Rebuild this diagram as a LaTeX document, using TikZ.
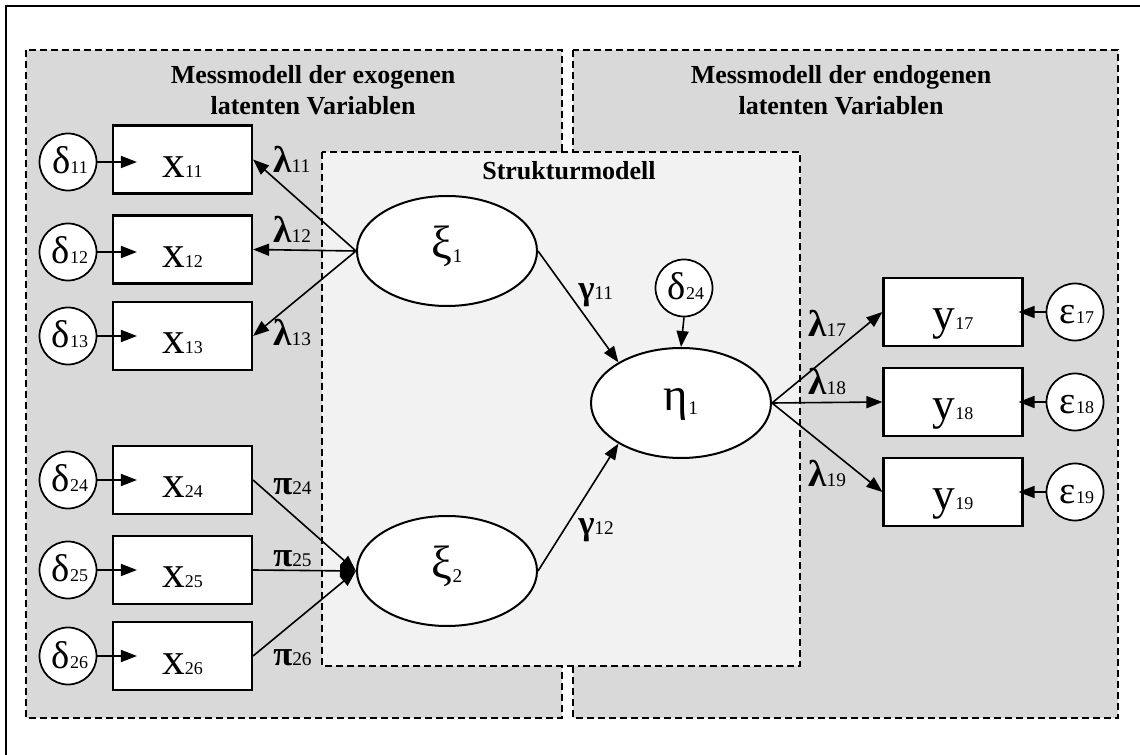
\documentclass[tikz,border=0pt]{standalone}
\usepackage{fontspec}
\setmainfont{Liberation Serif}
\usetikzlibrary{arrows.meta,shapes.geometric,calc}
\newcommand{\myfs}[1]{\fontsize{#1}{#1}\selectfont}
\newcommand{\sbs}[1]{{\normalfont\myfs{13.5}#1}}
\newcommand{\sbl}[1]{{\normalfont\myfs{14.5}#1}}
\definecolor{panelgray}{HTML}{D9D9D9}
\definecolor{structgray}{HTML}{F2F2F2}
\tikzset{
  panel/.style={draw, line width=1.3pt, dash pattern=on 5.25pt off 3pt},
  obsbox/.style={draw, fill=white, line width=1.6pt, minimum width=104.25pt, minimum height=51pt, inner sep=0pt, text height=27pt, text depth=0pt, font=\myfs{34}},
  errc/.style={circle, draw, fill=white, line width=1.3pt, minimum size=42.75pt, inner sep=0pt, text height=18pt, text depth=0pt, font=\myfs{29}},
  latent/.style={ellipse, draw, fill=white, line width=1.5pt, minimum width=135pt, minimum height=82.5pt, inner sep=0pt, text height=12pt, text depth=0pt, font=\myfs{35}},
  arr/.style={-{Triangle[length=12pt,width=9pt]}, line width=1.2pt},
  lamlabel/.style={anchor=base west, inner sep=0pt, font=\bfseries\myfs{28}},
  gplabel/.style={anchor=base west, inner sep=0pt, font=\bfseries\myfs{26}},
  ttl/.style={anchor=base, inner sep=0pt, font=\bfseries\myfs{19.5}}
}
\begin{document}
\begin{tikzpicture}[x=0.75pt,y=-0.75pt]
\useasboundingbox (0,0) rectangle (1140,755);
% outer frame (top and left visible)
\draw[line width=1.5pt] (6,755) -- (6,6) -- (1140,6);
% panels
\path[panel, fill=panelgray] (26,50) rectangle (562,718);
\path[panel, fill=panelgray] (573,50) rectangle (1118,718);
\path[panel, fill=structgray] (322,152) rectangle (800,666);
% titles
\node[ttl] (tla) at (313,84) {Messmodell der exogenen};
\node[ttl] (tlb) at (313,115) {latenten Variablen};
\node[ttl] (tra) at (841,84) {Messmodell der endogenen};
\node[ttl] (trb) at (841,115) {latenten Variablen};
\node[ttl] (tst) at (569,180) {Strukturmodell};
% observed x
\node[obsbox] (x11) at (182.5,159.5) {x\sbs{11}};
\node[obsbox] (x12) at (182.5,249.5) {x\sbs{12}};
\node[obsbox] (x13) at (182.5,336) {x\sbs{13}};
\node[obsbox] (x24) at (182.5,480) {x\sbs{24}};
\node[obsbox] (x25) at (182.5,570) {x\sbs{25}};
\node[obsbox] (x26) at (182.5,656) {x\sbs{26}};
% delta circles
\node[errc] (d11) at (68,162) {\hspace*{3pt}δ\sbs{11}};
\node[errc] (d12) at (68,252) {\hspace*{3pt}δ\sbs{12}};
\node[errc] (d13) at (68,336) {\hspace*{3pt}δ\sbs{13}};
\node[errc] (d24) at (68,480) {\hspace*{3pt}δ\sbs{24}};
\node[errc] (d25) at (68,570) {\hspace*{3pt}δ\sbs{25}};
\node[errc] (d26) at (68,656) {\hspace*{3pt}δ\sbs{26}};
% observed y
\node[obsbox] (y17) at (953,312) {y\sbs{17}};
\node[obsbox] (y18) at (953,402) {y\sbs{18}};
\node[obsbox] (y19) at (953,492) {y\sbs{19}};
% epsilon circles
\node[errc] (e17) at (1075,312) {\hspace*{3pt}ε\sbs{17}};
\node[errc] (e18) at (1075,402) {\hspace*{3pt}ε\sbs{18}};
\node[errc] (e19) at (1075,492) {\hspace*{3pt}ε\sbs{19}};
% latent
\node[latent] (xi1) at (447,251) {ξ\raisebox{-3pt}{\myfs{14.5}1}};
\node[latent] (xi2) at (447,571) {ξ\raisebox{-3pt}{\myfs{14.5}2}};
\node[latent] (eta) at (681,403) {η\raisebox{-3pt}{\myfs{14.5}1}};
\node[errc] (dz) at (684,288) {\hspace*{3pt}δ\sbs{24}};
% arrows delta -> x
\foreach \d/\x in {d11/x11,d12/x12,d13/x13,d24/x24,d25/x25,d26/x26}{
  \draw[arr] (\d.east) -- ($(\d.east -| \x.west)+(25,0)$);
}
% arrows eps -> y
\foreach \e/\y in {e17/y17,e18/y18,e19/y19}{
  \draw[arr] (\e.west) -- ($(\e.west -| \y.east)+(-5,0)$);
}
% loadings
\draw[arr] (xi1.west) -- (x11.east);
\draw[arr] (xi1.west) -- (x12.east);
\draw[arr] (xi1.west) -- (x13.east);
\draw[arr] (x24.east) -- (xi2.west);
\draw[arr] (x25.east) -- (xi2.west);
\draw[arr] (x26.east) -- (xi2.west);
\draw[arr] (xi1.east) -- (eta.147.6);
\draw[arr] (xi2.east) -- (eta.213.3);
\draw[arr] (dz.south) -- (eta.north);
\draw[arr] (eta.east) -- (y17.west);
\draw[arr] (eta.east) -- (y18.west);
\draw[arr] (eta.east) -- (y19.west);
% parameter labels
\node[lamlabel] (l11) at (273,173) {λ\sbl{11}};
\node[lamlabel] (l12) at (273,243) {λ\sbl{12}};
\node[lamlabel] (l13) at (273,346) {λ\sbl{13}};
\node[gplabel] (p24) at (273,495) {π\sbl{24}};
\node[gplabel] (p25) at (273,567) {π\sbl{25}};
\node[gplabel] (p26) at (273,666) {π\sbl{26}};
\node[gplabel] (g11) at (578,300) {γ\sbl{11}};
\node[gplabel] (g12) at (578,535) {γ\sbl{12}};
\node[lamlabel] (l17) at (808,337) {λ\sbl{17}};
\node[lamlabel] (l18) at (808,395) {λ\sbl{18}};
\node[lamlabel] (l19) at (808,487) {λ\sbl{19}};
\end{tikzpicture}
\end{document}
